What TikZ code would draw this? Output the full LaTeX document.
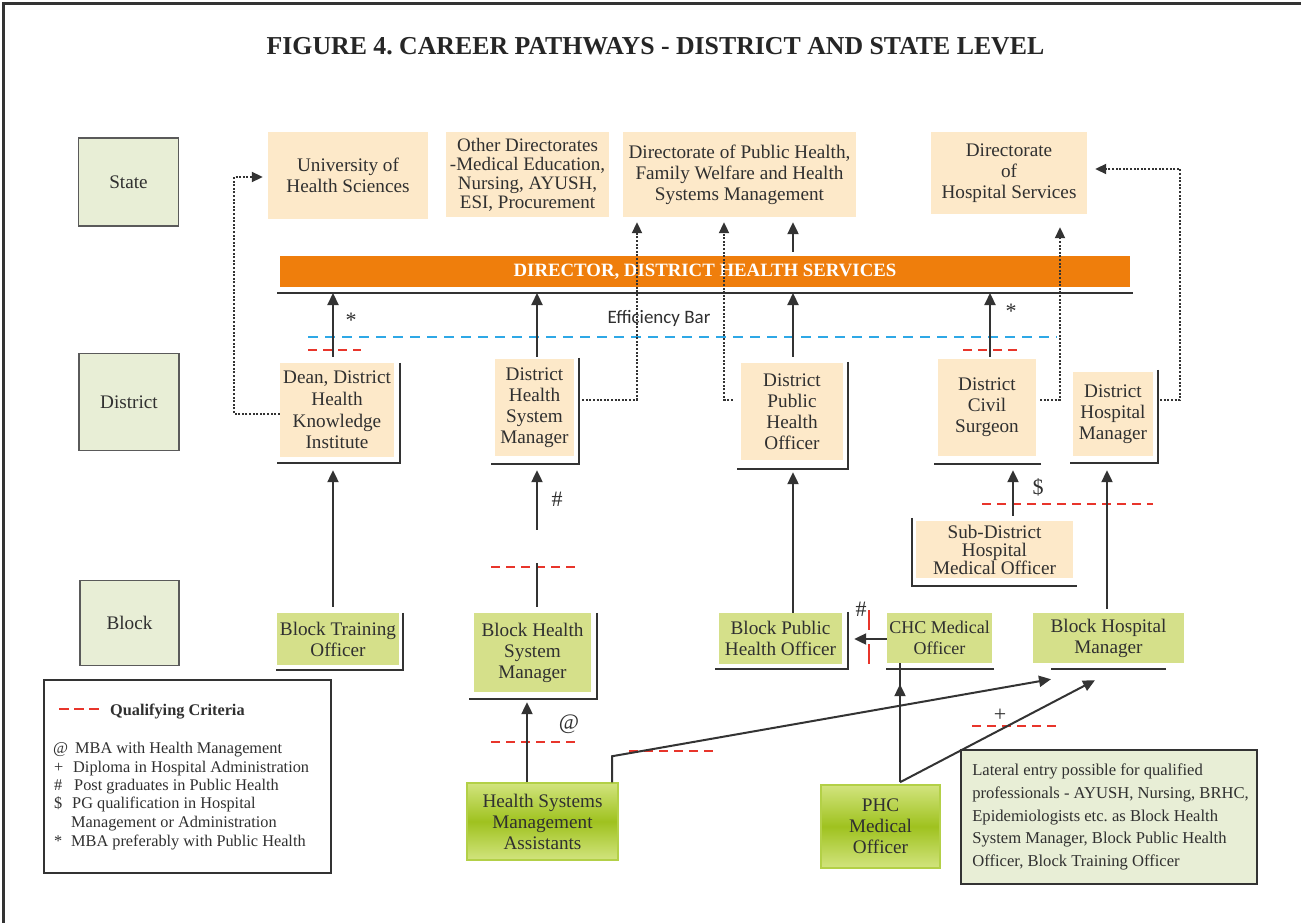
\documentclass[tikz,border=0pt]{standalone}
\usepackage{fontspec}
\setmainfont{Liberation Serif}
\newfontfamily\effont{Carlito}
\usetikzlibrary{arrows.meta,calc}
\definecolor{peach}{HTML}{FDE9C9}
\definecolor{lvlfill}{HTML}{E8EED6}
\definecolor{lvlborder}{HTML}{5A5A5A}
\definecolor{blockfill}{HTML}{D5E08A}
\definecolor{gtop}{HTML}{D2E47E}
\definecolor{gmid}{HTML}{9FC21F}
\definecolor{gborder}{HTML}{B3D047}
\definecolor{barorange}{HTML}{EF7E0C}
\definecolor{effblue}{HTML}{2EA8E6}
\definecolor{qred}{HTML}{E8352B}
\definecolor{ink}{HTML}{333333}
\definecolor{txt}{HTML}{303030}
\frenchspacing
\begin{document}
\begin{tikzpicture}[x=1pt,y=-1pt,
  every node/.style={text=txt},
  tx/.style={font=\fontsize{19.2}{21}\selectfont, align=center, inner sep=0pt},
  sz/.style 2 args={minimum width=#1pt, minimum height=#2pt},
  lvl/.style={tx, draw=lvlborder, line width=1.5pt, fill=lvlfill},
  peachbox/.style={tx, fill=peach},
  blockbox/.style={tx, fill=blockfill},
  gbox/.style={tx, draw=gborder, line width=1.5pt, top color=gtop, bottom color=gtop, middle color=gmid},
  lline/.style={draw=ink, line width=2.5pt},
  plainline/.style={draw=ink, line width=2.2pt},
  arr/.style={draw=ink, line width=2.2pt, -{Triangle[length=12pt,width=11pt]}},
  thinarr/.style={draw=ink, line width=2pt, -{Triangle[length=12pt,width=11pt]}},
  dotarr/.style={draw=ink, line width=2pt, dash pattern=on 2pt off 1.6pt, -{Triangle[length=11pt,width=10pt]}},
  qual/.style={draw=qred, line width=2.2pt, dash pattern=on 9pt off 6pt},
  effline/.style={draw=effblue, line width=2.2pt, dash pattern=on 10pt off 7pt},
  sym/.style={font=\fontsize{22}{24}\selectfont, inner sep=0pt},
  legt/.style={font=\fontsize{16.3}{19}\selectfont, inner sep=0pt, anchor=base west}
]
\useasboundingbox (0,0) rectangle (1301,923);
\fill[white] (0,0) rectangle (1301,923);
\draw[ink, line width=3pt] (3,940) -- (3,4) -- (1310,4);

% title
\node[font=\bfseries\fontsize{25.8}{28}\selectfont, text=black!85, inner sep=0pt] (title) at (655.5,46) {FIGURE 4. CAREER PATHWAYS - DISTRICT AND STATE LEVEL};

% level boxes
\node[lvl, sz={100}{88}] (state) at (128.5,182) {State};
\node[lvl, sz={100}{97}] (district) at (129,402) {District};
\node[lvl, sz={99}{85}] (block) at (129.5,623) {Block};

% state level
\node[peachbox, sz={160}{87}] (uhs) at (348,175.5) {University of\\Health Sciences};
\node[peachbox, sz={163}{85}, font=\fontsize{19}{19}\selectfont] (odir) at (527.5,174.5) {Other Directorates\\-Medical Education,\\Nursing, AYUSH,\\ESI, Procurement};
\node[peachbox, sz={233}{85}] (dph) at (739.5,174.5) {Directorate of Public Health,\\Family Welfare and Health\\Systems Management};
\node[peachbox, sz={156}{82}] (dhs) at (1009,173) {Directorate\\of\\Hospital Services};

% bar
\node[fill=barorange, sz={850}{31}, inner sep=0pt, text=white, font=\bfseries\fontsize{18.8}{20}\selectfont] (bar) at (705,271.5) {DIRECTOR, DISTRICT HEALTH SERVICES};
\coordinate (barL) at (277,293);
\coordinate (barR) at (1133,293);
\draw[plainline] (barL) -- (barR);
\node[font=\effont\fontsize{19}{20}\selectfont, inner sep=0pt] (eff) at (659,318) {Efficiency Bar};
\draw[effline] (308,337) -- (1057,337);

% district level
\node[peachbox, sz={114}{94}, font=\fontsize{19.2}{21.7}\selectfont] (dean) at (337,410) {Dean, District\\Health\\Knowledge\\Institute};
\node[peachbox, sz={79}{97}] (dhsm) at (534.5,407.5) {District\\Health\\System\\Manager};
\node[peachbox, sz={102}{97}] (dpho) at (792,411.5) {District\\Public\\Health\\Officer};
\node[peachbox, sz={98}{97}] (dcs) at (987,407.5) {District\\Civil\\Surgeon};
\node[peachbox, sz={80}{84}] (dhm) at (1113,414) {District\\Hospital\\Manager};

\draw[lline] ($(dean.north east)+(6,0)$) -- ($(dean.south east)+(6,6)$) -- ($(dean.south west)+(-3,6)$);
\draw[lline] ($(dhsm.north east)+(5,-1)$) -- ($(dhsm.south east)+(5,8)$) -- ($(dhsm.south west)+(-4,8)$);
\draw[lline] ($(dpho.north east)+(5,-1)$) -- ($(dpho.south east)+(5,9)$) -- ($(dpho.south west)+(-4,9)$);
\draw[lline] ($(dcs.south east)+(5,8)$) -- ($(dcs.south west)+(-4,8)$);
\draw[lline] ($(dhm.north east)+(5,-2)$) -- ($(dhm.south east)+(5,7)$) -- ($(dhm.south west)+(-3,7)$);

% block level
\node[blockbox, sz={122}{52}] (bto) at (338,639) {Block Training\\Officer};
\node[blockbox, sz={117}{79}] (bhsm) at (532.5,652.5) {Block Health\\System\\Manager};
\node[blockbox, sz={123}{51}] (bpho) at (780.5,638.5) {Block Public\\Health Officer};
\node[blockbox, sz={105}{50}, font=\fontsize{18}{21}\selectfont] (chc) at (939.5,638) {CHC Medical\\Officer};
\node[blockbox, sz={151}{50}] (bhm) at (1108.5,638) {Block Hospital\\Manager};
\node[peachbox, sz={157}{57}, font=\fontsize{19.2}{18}\selectfont] (sdh) at (994.5,549.5) {Sub-District\\Hospital\\Medical Officer};
\node[gbox, sz={151}{77}] (hsma) at (542.5,821.5) {Health Systems\\Management\\Assistants};
\node[gbox, sz={119}{83}] (phc) at (880.5,826.5) {PHC\\Medical\\Officer};

\draw[lline] ($(bto.north east)+(4,0)$) -- ($(bto.south east)+(4,5)$) -- ($(bto.south west)+(-1,5)$);
\draw[lline] ($(bhsm.north east)+(6,0)$) -- ($(bhsm.south east)+(6,7)$) -- ($(bhsm.south west)+(-5,7)$);
\draw[lline] ($(bpho.north east)+(6,-1)$) -- ($(bpho.south east)+(6,5)$) -- ($(bpho.south west)+(-4,5)$);
\draw[lline] ($(chc.south east)+(2,6)$) -- ($(chc.south west)+(-1,6)$);
\draw[lline] ($(sdh.north west)+(-4,-3)$) -- ($(sdh.south west)+(-4,8)$) -- ($(sdh.south east)+(4,8)$);
\draw[lline] ($(bhm.south east)+(-18,6)$) -- ($(bhm.south west)+(18,6)$);

% lateral entry box
\node[draw=ink, line width=1.8pt, fill=lvlfill, sz={296}{134}, inner sep=0pt] (lat) at (1109,817) {};
\node[anchor=west, align=left, inner sep=0pt, font=\fontsize{16.6}{22.7}\selectfont] (lattext) at ($(lat.west)+(12,0)$) {Lateral entry possible for qualified\\professionals - AYUSH, Nursing, BRHC,\\Epidemiologists etc. as Block Health\\System Manager, Block Public Health\\Officer, Block Training Officer};

% legend
\node[draw=ink, line width=1.8pt, fill=white, sz={287}{193}, inner sep=0pt] (legend) at (187.5,776.5) {};
\draw[draw=qred, line width=2.2pt, dash pattern=on 10pt off 5pt] (59,709) -- (99,709);
\node[legt, font=\bfseries\fontsize{16.3}{19}\selectfont] (lhead) at (110,715) {Qualifying Criteria};
\node[legt] (ls1) at (53,753) {@};
\node[legt] (lt1) at (75,753) {MBA with Health Management};
\node[legt] (ls2) at (54,772) {+};
\node[legt] (lt2) at (73,772) {Diploma in Hospital Administration};
\node[legt] (ls3) at (54,790) {\#};
\node[legt] (lt3) at (74,790) {Post graduates in Public Health};
\node[legt] (ls4) at (54,808) {\$};
\node[legt] (lt4) at (72,808) {PG qualification in Hospital};
\node[legt] (lt5) at (71,827) {Management or Administration};
\node[legt] (ls6) at (54,846) {*};
\node[legt] (lt6) at (71,846) {MBA preferably with Public Health};

% qualifying criteria dashes
\draw[qual] (308,350) -- (361,350);
\draw[qual] (963,350) -- (1018,350);
\draw[qual] (491,567) -- (578,567);
\draw[qual] (491,742) -- (578,742);
\draw[qual] (629,751) -- (715,751);
\draw[qual] (982,504) -- (1153,504);
\draw[qual] (972,726) -- (1058,726);
\draw[draw=qred, line width=2.2pt, dash pattern=on 20pt off 14pt] (869,610) -- (869,664);

% symbols
\node[sym] (st1) at (351,320) {*};
\node[sym] (st2) at (1011,311) {*};
\node[sym] (hash1) at (557,499) {\#};
\node[sym] (hash2) at (861,609) {\#};
\node[sym] (at1) at (569,724) {@};
\node[sym] (dol1) at (1038,487) {\$};
\node[sym] (plus1) at (1000,715) {+};

% arrows to the bar and state
\draw[arr] ($(dean.north)+(-4,-6)$) -- ($(dean.north |- barL)+(-4,0)$);
\draw[arr] ($(dhsm.north)+(2.5,-2)$) -- ($(dhsm.north |- barL)+(2.5,0)$);
\draw[arr] ($(dpho.north)+(1,-6)$) -- ($(dpho.north |- barL)+(1,0)$);
\draw[arr] ($(dcs.north)+(3,-2)$) -- ($(dcs.north |- barL)+(3,0)$);
\draw[arr] ($(dpho.north |- bar.north)+(1,-4)$) -- ($(dpho.north |- dph.south)+(1,5)$);

% dotted connectors
\coordinate (k0) at (234,414);
\coordinate (k1) at (637,399.5);
\coordinate (k2) at (724,399.5);
\coordinate (k3) at (1060,399.5);
\coordinate (k4) at (1180,400);
\draw[dotarr, shorten >=5pt] ($(dean.west)+(0,4)$) -- (k0) |- ($(uhs.west)+(0,1.5)$);
\draw[dotarr, shorten >=5pt] ($(dhsm.east)+(8,-8)$) -- (k1) -- (k1 |- dph.south);
\draw[dotarr, shorten >=5pt] ($(dpho.west)+(-8,-12)$) -- (k2) -- (k2 |- dph.south);
\draw[dotarr, shorten >=13pt] ($(dcs.east)+(4,-8)$) -- (k3) -- (k3 |- dhs.south);
\draw[dotarr, shorten >=8pt] ($(dhm.east)+(7,-14)$) -- (k4) |- ($(dhs.east)+(0,-4)$);

% lower arrows
\draw[arr] ($(bto.north)+(-5,-6)$) -- ($(dean.south)+(-4,13)$);
\draw[arr] ($(hsma.north)+(-15.5,0)$) -- ($(bhsm.south)+(-5.5,10)$);
\draw[plainline] ($(bhsm.north)+(4.5,-6)$) -- ($(bhsm.north)+(4.5,-50)$);
\draw[arr] ($(bhsm.north)+(4.5,-83)$) -- ($(dhsm.south)+(2.5,14)$);
\draw[arr] ($(bpho.north)+(12.5,0)$) -- ($(dpho.south)+(1,12)$);
\draw[arr] ($(chc.west)+(0,1)$) -- ($(bpho.east)+(12,0.5)$);
\draw[arr] ($(sdh.north)+(18.5,-5)$) -- ($(dcs.south)+(26,14)$);
\draw[arr] ($(bhm.north)+(-1.5,-4)$) -- ($(bhm.north |- dhm.south)+(-1.5,14)$);
\draw[plainline] ($(phc.north)+(19.5,-2)$) -- ($(phc.north |- chc.south)+(19.5,0)$);
\draw[arr] ($(phc.north)+(19.5,-2)$) -- ($(phc.north |- chc.south)+(19.5,21)$);
\draw[thinarr] ($(phc.north)+(19.5,-2)$) -- ($(bhm.south)+(-13.5,17)$);
\draw[thinarr] ($(hsma.north)+(69.5,0)$) -- ++(0,-26) -- ($(bhm.south)+(-57.5,16)$);
\end{tikzpicture}
\end{document}
